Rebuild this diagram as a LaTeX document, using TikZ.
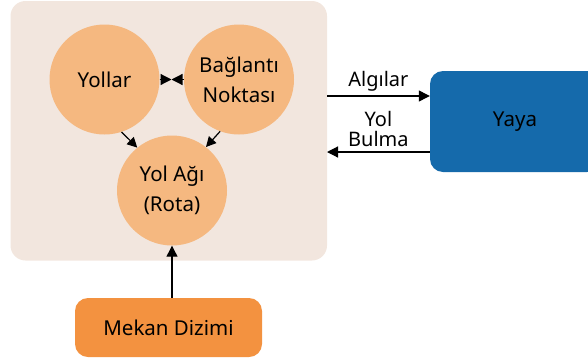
\documentclass[tikz,border=0pt]{standalone}
\usepackage{fontspec}
\setmainfont{Noto Sans}
\usetikzlibrary{arrows.meta}
\definecolor{panelc}{HTML}{F2E6DE}
\definecolor{circc}{HTML}{F5B880}
\definecolor{mekanc}{HTML}{F39240}
\definecolor{yayac}{HTML}{156AAB}
\begin{document}
\begin{tikzpicture}[x=1pt,y=-1pt,
  circ/.style={circle,fill=circc,minimum size=110pt,inner sep=0pt,align=center,font=\fontsize{20.5}{30}\selectfont},
  rbox/.style={rounded corners=13pt,inner sep=0pt,font=\fontsize{20.5}{24}\selectfont},
  conn/.style={line width=1.2pt,-{Triangle[length=11pt,width=11pt]}},
  lbl/.style={font=\fontsize{20}{20}\selectfont,align=center}]
\useasboundingbox (0,0) rectangle (588,362);
\fill[panelc,rounded corners=15pt] (10.5,1) rectangle (327,260.5);
\node[circ] (yol) at (104.5,79.5) {Yollar};
\node[circ] (bag) at (239,79.5) {Bağlantı\\Noktası};
\node[circ] (ag) at (172,190.5) {Yol Ağı\\(Rota)};
\node[rbox,fill=mekanc,minimum width=187pt,minimum height=59pt] (mek) at (168.5,327.5) {Mekan Dizimi};
\node[rbox,fill=yayac,minimum width=170pt,minimum height=101pt] (yaya) at (515,121.5) {Yaya};
\coordinate (mid) at (171.5,79.5);
\draw[conn] (yol.east) -- (mid);
\draw[conn] (bag.west) -- (mid);
\draw[conn,-{Triangle[length=10pt,width=10pt]}] (yol.-72) -- (ag.129);
\draw[conn,-{Triangle[length=10pt,width=10pt]}] (bag.-110) -- (ag.52);
\draw[conn] (mek.north -| ag.south) -- (ag.south);
\coordinate (pr) at (327,96);
\coordinate (pr2) at (327,152);
\draw[conn] (pr) -- (pr -| yaya.west) node[lbl,midway,above=1pt] {Algılar};
\draw[conn] (pr2 -| yaya.west) -- (pr2) node[lbl,midway,above=1pt] {Yol\\Bulma};
\end{tikzpicture}
\end{document}
